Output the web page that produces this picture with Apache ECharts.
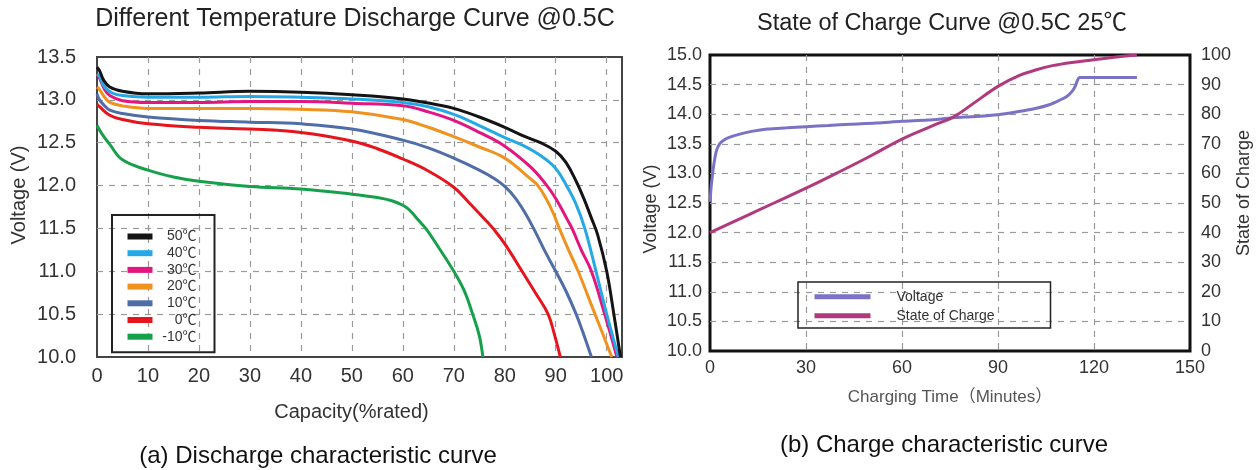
<!DOCTYPE html>
<html>
<head>
<meta charset="utf-8">
<script src="https://cdn.jsdelivr.net/npm/echarts@6/dist/echarts.min.js"></script>
<style>
html,body{margin:0;padding:0;background:#fff;}
#c{width:1258px;height:470px;}
</style>
</head>
<body>
<div id="c"></div>
<script>
// ---------- Discharge chart (a) ----------
const tempNames = ['50℃', '40℃', '30℃', '20℃', '10℃', '0℃', '-10℃'];
const capTicks = [0, 10, 20, 30, 40, 50, 60, 70, 80, 90, 100];

const cap50 = [0, 0.5, 1.3, 2.5, 5, 10, 20, 30, 40, 50, 60, 67, 70, 75, 80, 84, 87, 90, 92, 94, 95.5, 97, 98.2, 100, 101.4, 102.7];
const volt50 = [13.38, 13.34, 13.23, 13.15, 13.1, 13.07, 13.08, 13.1, 13.09, 13.06, 13.01, 12.94, 12.9, 12.8, 12.68, 12.57, 12.5, 12.4, 12.27, 12.05, 11.85, 11.62, 11.43, 11.0, 10.5, 10.0];

const cap40 = [0, 0.5, 1.5, 3, 5, 10, 20, 30, 40, 50, 60, 65, 70, 75, 80, 83.5, 87, 90, 92.3, 94, 95.7, 97.9, 100, 102.3];
const volt40 = [13.3, 13.27, 13.15, 13.08, 13.05, 13.03, 13.03, 13.04, 13.03, 13.01, 12.97, 12.92, 12.83, 12.7, 12.56, 12.47, 12.35, 12.2, 11.98, 11.78, 11.5, 11.0, 10.5, 10.0];

const cap30 = [0, 0.5, 1.5, 2.5, 5, 10, 20, 30, 40, 50, 60, 65, 70, 75, 80, 85, 88, 90, 92.3, 93.2, 95, 97, 99.6, 102];
const volt30 = [13.3, 13.25, 13.12, 13.05, 12.99, 12.97, 12.97, 12.98, 12.98, 12.96, 12.93, 12.86, 12.76, 12.62, 12.46, 12.22, 12.02, 11.85, 11.6, 11.5, 11.25, 11.0, 10.5, 10.0];

const cap20 = [0, 0.5, 1.5, 2.5, 5, 10, 20, 30, 40, 50, 60, 65, 70, 75, 80, 85, 86.5, 88, 89.5, 90.7, 92.5, 94.4, 97.7, 101];
const volt20 = [13.15, 13.12, 13.03, 12.97, 12.93, 12.9, 12.9, 12.9, 12.89, 12.86, 12.77, 12.68, 12.57, 12.45, 12.32, 12.08, 12.0, 11.86, 11.68, 11.5, 11.25, 11.0, 10.5, 10.0];

const cap10 = [0, 0.5, 1.5, 2.5, 5, 10, 20, 30, 40, 50, 60, 65, 70, 75, 78, 80, 82, 84, 86, 88, 90, 92, 94, 95.5, 97];
const volt10 = [13.07, 13.0, 12.93, 12.88, 12.84, 12.8, 12.76, 12.74, 12.72, 12.66, 12.53, 12.44, 12.32, 12.18, 12.08, 11.99, 11.86, 11.68, 11.46, 11.22, 11.0, 10.77, 10.5, 10.26, 10.0];

const cap0 = [0, 0.5, 2.5, 5, 10, 20, 30, 40, 50, 55, 60, 65, 70, 73, 76.5, 77.7, 80, 83.4, 86, 88.5, 89.8, 90.9];
const volt0 = [12.95, 12.92, 12.82, 12.77, 12.72, 12.68, 12.66, 12.62, 12.52, 12.43, 12.31, 12.17, 11.98, 11.8, 11.58, 11.5, 11.32, 11.0, 10.75, 10.5, 10.25, 10.0];

const capM10 = [0, 1, 2.5, 5, 10, 15, 20, 30, 40, 50, 55, 58, 60, 61, 62, 63, 64.5, 67, 70, 72, 73.7, 75, 75.7];
const voltM10 = [12.7, 12.6, 12.48, 12.3, 12.18, 12.1, 12.05, 11.99, 11.96, 11.9, 11.86, 11.82, 11.77, 11.73, 11.67, 11.6, 11.5, 11.28, 11.0, 10.78, 10.5, 10.25, 10.0];

const tempColors = ['#141414', '#25a8e6', '#e3167f', '#f0921f', '#4f6da6', '#e6141c', '#17a04b'];

// ---------- Charge chart (b) ----------
const timeV = [0, 0.5, 1.2, 2, 3, 4.5, 6, 9, 13, 18, 24, 30, 37, 44, 52, 60, 68, 76, 83, 90, 96, 102, 106, 109, 111.5, 113.2, 114.2, 114.8, 115.5, 124, 133.4];
const voltV = [12.52, 12.85, 13.15, 13.38, 13.5, 13.57, 13.61, 13.66, 13.71, 13.75, 13.77, 13.79, 13.81, 13.83, 13.85, 13.88, 13.9, 13.94, 13.96, 13.99, 14.04, 14.1, 14.16, 14.23, 14.3, 14.39, 14.48, 14.57, 14.62, 14.62, 14.62];

const timeS = [0, 10, 20, 30, 40, 50, 60, 70, 76, 82, 90, 96.7, 102, 107, 113, 120, 127, 133.4];
const socS = [40, 45, 50, 55, 60.3, 65.8, 71.6, 76.3, 79, 83.4, 89.4, 93.1, 95, 96.4, 97.5, 98.4, 99.3, 100];

const chargeNames = ['Voltage', 'State of Charge'];
const chargeColors = ['#7a73c5', '#b13a7f'];

const zip = (xs, ys) => xs.map((x, i) => [x, ys[i]]);
const FONT = "'Liberation Sans', Arial, 'Noto Sans CJK SC', sans-serif";

const dischargeSets = [
  [cap50, volt50], [cap40, volt40], [cap30, volt30], [cap20, volt20],
  [cap10, volt10], [cap0, volt0], [capM10, voltM10]
];

const gridLine = { show: true, showMinLine: false, showMaxLine: false, lineStyle: { color: '#9a9a9a', width: 1.2, type: [6, 6] } };

const series = dischargeSets.map((s, i) => ({
  name: tempNames[i],
  type: 'line',
  xAxisIndex: 0,
  yAxisIndex: 0,
  data: zip(s[0], s[1]),
  showSymbol: false,
  symbol: 'none',
  smooth: 0.4,
  lineStyle: { color: tempColors[i], width: 3 },
  itemStyle: { color: tempColors[i] },
  z: 10 - i
}));

series.push({
  name: chargeNames[0], type: 'line', xAxisIndex: 1, yAxisIndex: 1,
  data: zip(timeV, voltV), showSymbol: false, symbol: 'none',
  smooth: 0.3,
  lineStyle: { color: chargeColors[0], width: 3 }, itemStyle: { color: chargeColors[0] }
});
series.push({
  name: chargeNames[1], type: 'line', xAxisIndex: 1, yAxisIndex: 2,
  data: zip(timeS, socS), showSymbol: false, symbol: 'none',
  smooth: 0.4,
  lineStyle: { color: chargeColors[1], width: 3 }, itemStyle: { color: chargeColors[1] }
});

const option = {
  animation: false,
  backgroundColor: '#fff',
  textStyle: { fontFamily: FONT },
  title: [
    { text: 'Different Temperature Discharge Curve @0.5C', left: 355, top: 7, padding: 0, textAlign: 'center',
      textStyle: { fontSize: 25, fontWeight: 'normal', color: '#222', fontFamily: FONT } },
    { text: 'State of Charge Curve @0.5C 25℃', left: 942, top: 12, padding: 0, textAlign: 'center',
      textStyle: { fontSize: 23.5, fontWeight: 'normal', color: '#222', fontFamily: FONT } },
    { text: '(a) Discharge characteristic curve', left: 318, top: 444, padding: 0, textAlign: 'center',
      textStyle: { fontSize: 24, fontWeight: 'normal', color: '#111', fontFamily: FONT } },
    { text: '(b) Charge characteristic curve', left: 944, top: 433, padding: 0, textAlign: 'center',
      textStyle: { fontSize: 24, fontWeight: 'normal', color: '#111', fontFamily: FONT } }
  ],
  legend: [
    {
      data: tempNames, left: 112, top: 215, orient: 'vertical',
      padding: [14.5, 18, 8.5, 15.5], itemWidth: 25, itemHeight: 6, itemGap: 2.7,
      icon: 'rect', borderColor: '#222', borderWidth: 2,
      itemStyle: { borderWidth: 0 },
      formatter: n => '{a|' + n + '}',
      textStyle: { rich: { a: { width: 39, align: 'right', fontSize: 14, lineHeight: 13, color: '#333', fontFamily: FONT } } }
    },
    {
      data: chargeNames, left: 798, top: 282, orient: 'vertical',
      padding: [7.8, 4, 5.2, 16.5], itemWidth: 56, itemHeight: 5, itemGap: 5,
      icon: 'rect', borderColor: '#222', borderWidth: 1.5,
      itemStyle: { borderWidth: 0 },
      formatter: n => '{a|' + n + '}',
      textStyle: { rich: { a: { width: 150, padding: [0, 0, 0, 21], fontSize: 14, lineHeight: 15, color: '#333', fontFamily: FONT } } }
    }
  ],
  grid: [
    { left: 97, right: 636, top: 57, bottom: 113, show: true, borderColor: '#444', borderWidth: 2, backgroundColor: 'transparent' },
    { left: 710, right: 68, top: 55, bottom: 119, show: true, borderColor: '#111', borderWidth: 3, backgroundColor: 'transparent' }
  ],
  xAxis: [
    {
      gridIndex: 0, type: 'value', min: 0, max: 103, interval: 10,
      axisLine: { show: false }, axisTick: { show: false },
      splitLine: gridLine,
      axisLabel: { fontSize: 20, color: '#333', margin: 9, fontFamily: FONT,
        formatter: v => capTicks.includes(v) ? String(v) : '' },
      name: 'Capacity(%rated)', nameLocation: 'middle', nameGap: 45,
      nameTextStyle: { fontSize: 20, color: '#333', padding: [0, 16, 0, 0], fontFamily: FONT }
    },
    {
      gridIndex: 1, type: 'value', min: 0, max: 150, interval: 30,
      axisLine: { show: false }, axisTick: { show: false },
      splitLine: gridLine,
      axisLabel: { fontSize: 18, color: '#333', margin: 8, fontFamily: FONT },
      name: 'Charging Time（Minutes）', nameLocation: 'middle', nameGap: 38,
      nameTextStyle: { fontSize: 17, color: '#555', fontFamily: FONT }
    }
  ],
  yAxis: [
    {
      gridIndex: 0, type: 'value', min: 10, max: 13.5, interval: 0.5,
      axisLine: { show: false }, axisTick: { show: false },
      splitLine: gridLine,
      axisLabel: { fontSize: 20, color: '#333', margin: 21, fontFamily: FONT, formatter: v => v.toFixed(1) },
      name: 'Voltage (V)', nameLocation: 'middle', nameGap: 68,
      nameTextStyle: { fontSize: 20, color: '#333', padding: [0, 0, 0, 24], fontFamily: FONT }
    },
    {
      gridIndex: 1, type: 'value', min: 10, max: 15, interval: 0.5, position: 'left',
      axisLine: { show: false }, axisTick: { show: false },
      splitLine: gridLine,
      axisLabel: { fontSize: 18, color: '#333', margin: 8, fontFamily: FONT, formatter: v => v.toFixed(1) },
      name: 'Voltage (V)', nameLocation: 'middle', nameGap: 50,
      nameTextStyle: { fontSize: 18, color: '#333', padding: [0, 12, 0, 0], fontFamily: FONT }
    },
    {
      gridIndex: 1, type: 'value', min: 0, max: 100, interval: 10, position: 'right',
      axisLine: { show: false }, axisTick: { show: false },
      splitLine: { show: false },
      axisLabel: { fontSize: 18, color: '#333', margin: 11, fontFamily: FONT },
      name: 'State of Charge', nameLocation: 'middle', nameGap: 42,
      nameTextStyle: { fontSize: 18, color: '#333', padding: [0, 0, 0, 20], fontFamily: FONT }
    }
  ],
  series: series
};

const chart = echarts.init(document.getElementById('c'), null, { renderer: 'canvas' });
chart.setOption(option);
</script>
</body>
</html>
